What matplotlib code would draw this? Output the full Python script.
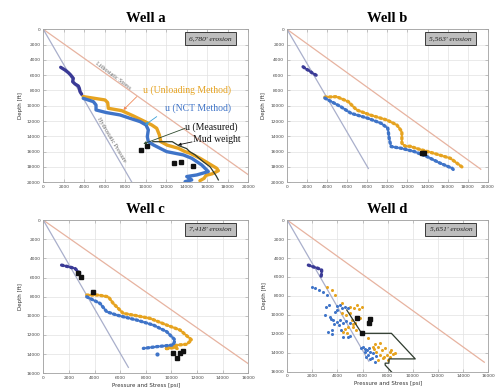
import matplotlib
matplotlib.use("Agg")
import matplotlib.pyplot as plt

# ---------------- data ----------------
# Well a
a_navy_x = [1700, 2120, 2450, 2670, 2930, 2870, 3100, 3420, 3520, 3590, 3750]
a_navy_y = [4970, 5320, 5670, 5970, 6410, 6850, 7150, 7410, 7720, 8150, 8500]
a_unl_x = [3900, 6030, 6290, 6350, 7660, 8800, 9610, 10590, 11080, 11340, 11470, 12100,
           13190, 13850, 14330, 15310, 16120, 16940, 17100, 16500, 15900, 15700, 15300]
a_unl_y = [8800, 9240, 9590, 10330, 10640, 11330, 11860, 12510, 12950, 13820, 14690, 15150,
           15560, 16000, 16210, 16870, 17520, 18180, 18500, 18900, 19100, 19500, 19800]
a_nct_x = [3900, 4890, 5150, 5150, 6190, 7490, 8470, 9450, 10030, 10260, 10160, 10260, 10750,
           11400, 12050, 13680, 14500, 15470, 16120, 14990, 14010, 14500, 13850]
a_nct_y = [9030, 9460, 9900, 10550, 10900, 11200, 11640, 12070, 12510, 13160, 14040, 14690, 15120,
           15560, 16000, 16430, 16870, 17740, 18610, 19050, 19260, 19700, 19920]
a_meas_x = [9550, 10150, 12740, 13490, 14620]
a_meas_y = [15730, 15280, 17520, 17350, 17900]
a_mud_x = [10700, 12600, 13200, 14000, 14300, 14800, 15600, 16300, 16900, 17100]
a_mud_y = [14700, 14700, 15200, 15600, 16000, 16400, 17300, 18000, 19200, 19700]
a_over = ([0, 20000], [0, 19000])
a_hydro = ([0, 8650], [0, 20000])

# Well b
b_navy_x = [1600, 1900, 2200, 2500, 2900]
b_navy_y = [4900, 5200, 5400, 5700, 6000]
b_unl_x = [3770, 4940, 6100, 6940, 8270, 9940, 10940, 11440, 11440, 11770, 12270, 12940,
           14600, 16270, 17600]
b_unl_y = [8870, 8810, 9460, 10550, 11200, 11860, 12510, 13380, 14900, 15300, 15300, 15600,
           16210, 16870, 18170]
b_nct_x = [3770, 5340, 6370, 8040, 9370, 10040, 10200, 10370, 11370, 12700, 13940, 15270,
           16440, 16600]
b_nct_y = [9000, 10110, 10980, 11630, 12290, 12940, 14470, 15340, 15560, 16000, 16650, 17520,
           18170, 18390]
b_meas_x = [13440, 13670]
b_meas_y = [16130, 16210]
b_over = ([0, 19300], [0, 18300])
b_hydro = ([0, 8100], [0, 18200])

# Well c
c_navy_x = [1430, 1900, 2470, 2730, 3000]
c_navy_y = [4700, 4850, 5040, 5390, 5740]
c_unl_x = [3390, 4300, 5080, 5460, 6240, 7020, 8330, 9630, 10670, 11580, 11190, 10540, 9890,
           9500, 10300, 10600]
c_unl_y = [7830, 7830, 8010, 8700, 9740, 9920, 10260, 10960, 11480, 12520, 12970, 13040, 13220,
           13450, 13300, 13550]
c_nct_x = [3390, 4430, 4950, 5730, 7290, 8590, 9630, 10280, 10150, 8850, 7810]
c_nct_y = [8010, 8700, 9570, 9920, 10440, 10960, 11650, 12520, 13040, 13220, 13400]
c_nct_pt_x = [8900]
c_nct_pt_y = [14020]
c_meas_x = [2680, 2940, 3860, 10150, 10410, 10670, 10930]
c_meas_y = [5530, 5950, 7550, 13920, 14370, 13920, 13680]
c_over = ([0, 16000], [0, 15000])
c_hydro = ([0, 6640], [0, 15380])

# Well d
d_navy_x = [1680, 1900, 2100, 2340, 2550, 2740, 2740, 2700, 2750]
d_navy_y = [4750, 4850, 4950, 5030, 5150, 5270, 5600, 5900, 6150]
d_nct_x = [1940, 2200, 2500, 2870, 3140, 4200, 4600, 4350, 3010, 3400, 3670, 3940, 4470, 5000,
           3270, 3540, 4470, 4860, 6060, 6330, 6600, 6460, 6730, 6990, 6200, 5900, 4000, 3800,
           3100, 3300, 4000, 4800, 3500, 4200, 4700, 3700, 4100, 4300, 3600, 5000, 6200, 6500,
           6800, 6300, 7100, 6600]
d_nct_y = [7030, 7200, 7350, 7560, 7910, 8970, 9140, 9300, 10020, 10200, 10550, 10720, 10900,
           10900, 11780, 11600, 12310, 12310, 13360, 13710, 13890, 14240, 14590, 14950, 13890,
           13540, 9500, 9700, 9200, 9000, 9100, 9300, 10400, 10500, 10700, 11000, 11100, 11600,
           12000, 12200, 13600, 13500, 14000, 14400, 14300, 14700]
d_unl_x = [3140, 3540, 3800, 5000, 5530, 5930, 4340, 5140, 5400, 4470, 4740, 5260, 6460, 7260,
           7530, 7790, 8190, 7390, 7920, 8050, 7660, 6860, 5600, 4800, 8400, 7100,
           4400, 5300, 5700, 4700, 5000, 5800, 5200, 4600, 5500, 7000, 7400, 8300, 8600, 7700,
           8200, 7200, 6900]
d_unl_y = [7030, 7380, 7910, 9140, 8970, 9140, 9840, 10550, 10900, 11780, 11950, 11250, 12480,
           13360, 13710, 13540, 13890, 14240, 14240, 14770, 14590, 13360, 10200, 11300, 14100, 13900,
           8700, 9300, 9400, 10000, 9800, 10300, 11000, 11500, 11600, 13100, 13000, 13700, 14000,
           14400, 14500, 14800, 13600]
d_meas_x = [5530, 6600, 6540, 5930]
d_meas_y = [10370, 10480, 10830, 11950]
d_mud_x = [4740, 5930, 8300, 10200, 8100, 8100, 7800, 7800, 8500]
d_mud_y = [9490, 11950, 11950, 14650, 14650, 15100, 15100, 15300, 16300]
d_over = ([0, 15700], [0, 15000])
d_hydro = ([0, 6500], [0, 14900])

wells = ["Well a", "Well b", "Well c", "Well d"]
erosion = ["6,780' erosion", "5,563' erosion", "7,418' erosion", "5,651' erosion"]
limits = [20000, 20000, 16000, 16000]

# ---------------- style ----------------
ORANGE = "#E6A320"
BLUE = "#3F74C8"
NAVY = "#3A3A96"
OVER = "#E7B3A0"
HYDRO = "#A9AFCB"
MUD = "#2E3B2E"
SERIF = ["Liberation Serif", "DejaVu Serif"]

fig = plt.figure(figsize=(4.97, 3.91), dpi=100)
fig.patch.set_facecolor("white")

rects = [
    [0.0871, 0.534, 0.412, 0.391],
    [0.5775, 0.534, 0.404, 0.391],
    [0.0871, 0.0453, 0.4125, 0.3917],
    [0.578, 0.0494, 0.404, 0.3876],
]

axes = [fig.add_axes(r) for r in rects]


def style_axes(ax, lim, title, eros, xlabel=True):
    ax.set_xlim(0, lim)
    ax.set_ylim(lim, 0)
    ticks = list(range(0, lim + 1, 2000))
    ax.set_xticks(ticks)
    ax.set_yticks(ticks)
    ax.set_xticklabels([str(t) for t in ticks])
    ax.set_yticklabels([str(t) for t in ticks])
    ax.grid(True, color="#E2E2E2", lw=0.5)
    ax.set_axisbelow(True)
    for s in ax.spines.values():
        s.set_color("#A0A0A0")
        s.set_linewidth(0.6)
    ax.tick_params(direction="in", length=2, width=0.4, colors="#A0A0A0",
                   labelcolor="#444444", labelsize=3.2, pad=2, top=True, right=True)
    ax.set_ylabel("Depth [ft]", fontsize=4, color="#333333", labelpad=3)
    if xlabel:
        ax.set_xlabel("Pressure and Stress [psi]", fontsize=4, color="#333333", labelpad=2)
    ax.set_title(title, fontsize=10.5, fontweight="bold", family=SERIF, pad=5)
    ax.text(0.815, 0.94, eros, transform=ax.transAxes, ha="center", va="center",
            fontsize=5.4, style="italic", family=SERIF, color="#222222",
            bbox=dict(boxstyle="square,pad=0.55", facecolor="#BEBEBE",
                      edgecolor="#3A3A3A", lw=0.7))


def ref_lines(ax, over, hydro):
    ax.plot(over[0], over[1], color=OVER, lw=0.9, zorder=2)
    ax.plot(hydro[0], hydro[1], color=HYDRO, lw=0.9, zorder=2)


dotted = dict(linestyle=(0, (0.5, 0.9)), dash_capstyle="round", lw=2.4)
SQ = dict(marker="s", linestyle="none", color="#111111", ms=2.2, zorder=6)

# ---- Well a ----
ax = axes[0]
style_axes(ax, limits[0], wells[0], erosion[0], xlabel=False)
ref_lines(ax, a_over, a_hydro)
ax.plot(a_navy_x, a_navy_y, color=NAVY, lw=2.4, solid_capstyle="round", zorder=3)
ax.plot(a_unl_x, a_unl_y, color=ORANGE, lw=2.4, solid_capstyle="round", zorder=3)
ax.plot(a_nct_x, a_nct_y, color=BLUE, lw=2.4, solid_capstyle="round", zorder=4)
ax.plot(a_mud_x, a_mud_y, color=MUD, lw=0.9, zorder=5)
ax.plot(a_meas_x, a_meas_y, **SQ)
ax.text(6840, 6080, "Lithostatic Stress", rotation=-37, fontsize=4.4, color="#666666",
        family=SERIF, ha="center", va="center", rotation_mode="anchor")
ax.text(6700, 14400, "Hydrostatic Pressure", rotation=-59, fontsize=4.4, color="#666666",
        family=SERIF, ha="center", va="center", rotation_mode="anchor")
ax.text(9750, 7930, "u (Unloading Method)", fontsize=7, color=ORANGE, family=SERIF,
        ha="left", va="center", zorder=7)
ax.text(11900, 10290, "u (NCT Method)", fontsize=7, color=BLUE, family=SERIF,
        ha="left", va="center", zorder=7)
ax.text(13850, 12770, "u (Measured)", fontsize=7, color="#111111", family=SERIF,
        ha="left", va="center", zorder=7)
ax.text(14630, 14470, "Mud weight", fontsize=7, color="#111111", family=SERIF,
        ha="left", va="center", zorder=7)
arrows = [
    ((9130, 8810), (7820, 10550), "#F08A5A"),
    ((11080, 11420), (9940, 12510), "#3AA0D8"),
    ((13850, 12950), (9770, 14990), "#2E4A2E"),
    ((14530, 14730), (13160, 15120), "#111111"),
]
for start, end, col in arrows:
    ax.annotate("", xy=end, xytext=start,
                arrowprops=dict(arrowstyle="-|>", color=col, lw=0.6,
                                mutation_scale=4, shrinkA=0, shrinkB=0), zorder=7)

# ---- Well b ----
ax = axes[1]
style_axes(ax, limits[1], wells[1], erosion[1], xlabel=False)
ref_lines(ax, b_over, b_hydro)
ax.plot(b_navy_x, b_navy_y, color=NAVY, zorder=3, **dotted)
ax.plot(b_unl_x, b_unl_y, color=ORANGE, zorder=3, **dotted)
ax.plot(b_nct_x, b_nct_y, color=BLUE, zorder=4, **dotted)
ax.plot(b_meas_x, b_meas_y, **SQ)

# ---- Well c ----
ax = axes[2]
style_axes(ax, limits[2], wells[2], erosion[2])
ref_lines(ax, c_over, c_hydro)
ax.plot(c_navy_x, c_navy_y, color=NAVY, zorder=3, **dotted)
ax.plot(c_unl_x, c_unl_y, color=ORANGE, zorder=3, **dotted)
ax.plot(c_nct_x, c_nct_y, color=BLUE, zorder=4, **dotted)
ax.plot(c_nct_pt_x, c_nct_pt_y, "o", color=BLUE, ms=2, zorder=4)
ax.plot(c_meas_x, c_meas_y, **SQ)

# ---- Well d ----
ax = axes[3]
style_axes(ax, limits[3], wells[3], erosion[3])
ref_lines(ax, d_over, d_hydro)
ax.plot(d_navy_x, d_navy_y, color=NAVY, zorder=3, **dotted)
ax.plot(d_unl_x, d_unl_y, "o", color=ORANGE, ms=2.2, mec="none", zorder=3)
ax.plot(d_nct_x, d_nct_y, "o", color=BLUE, ms=2.2, mec="none", zorder=4)
ax.plot(d_mud_x, d_mud_y, color=MUD, lw=0.9, zorder=5)
ax.plot(d_meas_x, d_meas_y, **SQ)

fig.savefig("out.png", dpi=100, facecolor="white")
